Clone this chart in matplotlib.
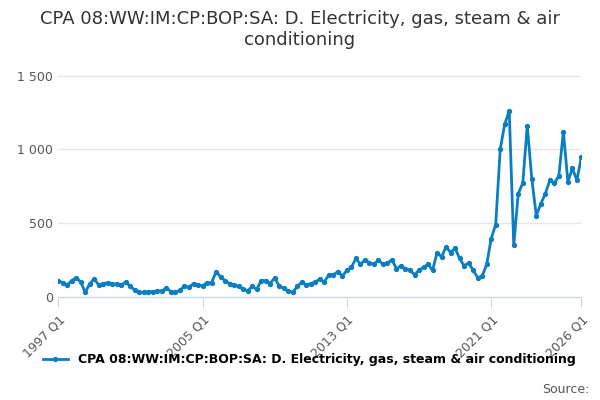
import matplotlib
matplotlib.use("Agg")
import matplotlib.pyplot as plt
import numpy as np

values = [110, 95, 80, 110, 130, 100, 30, 90, 120, 80, 90, 95, 90, 85, 80,
          100, 70, 45, 30, 30, 35, 35, 40, 40, 60, 35, 30, 45, 70, 65, 90,
          80, 75, 95, 95, 170, 135, 110, 90, 80, 70, 55, 40, 70, 50, 110,
          110, 90, 130, 70, 60, 40, 30, 70, 100, 80, 90, 100, 120, 100,
          150, 150, 170, 140, 180, 200, 260, 220, 250, 230, 220, 250, 220, 230, 250, 190,
          210, 190, 180, 150, 180, 200, 220, 180, 300, 270, 340, 300, 330, 260, 210, 230,
          180, 130, 140, 220, 395, 490, 1000, 1170, 1260, 350, 700, 770, 1160, 800, 550, 630,
          700, 790, 770, 820, 1120, 780, 870, 790, 950]
labels = [f"{1997 + i // 4} Q{i % 4 + 1}" for i in range(len(values))]
tick_labels = ["1997 Q1", "2005 Q1", "2013 Q1", "2021 Q1", "2026 Q1"]
series_name = "CPA 08:WW:IM:CP:BOP:SA: D. Electricity, gas, steam & air conditioning"

fig = plt.figure(figsize=(6, 4), dpi=100)
ax = fig.add_axes([0.097, 0.258, 0.872, 0.59])
x = np.arange(len(values))
ax.plot(x, values, color="#0a7ec2", lw=2, marker="o", ms=2.8)
ax.set_xlim(0, len(values) - 1)
ax.set_ylim(0, 1600)
ax.set_yticks([0, 500, 1000, 1500])
ax.set_yticklabels(["0", "500", "1 000", "1 500"])
ticks = [labels.index(t) for t in tick_labels]
ax.set_xticks(ticks)
ax.set_xticklabels(tick_labels, rotation=45, ha="right", rotation_mode="anchor")
ax.tick_params(axis="y", length=0, labelsize=9, colors="#555555")
ax.tick_params(axis="x", length=8, color="#ccd6eb", labelsize=9, labelcolor="#555555")
ax.grid(axis="y", color="#e6e6e6", lw=1)
for s in ["top", "right", "left"]:
    ax.spines[s].set_visible(False)
ax.spines["bottom"].set_color("#ccd6eb")
fig.suptitle("CPA 08:WW:IM:CP:BOP:SA: D. Electricity, gas, steam & air\nconditioning",
             y=0.975, fontsize=13, color="#333333")
ax.legend([ax.lines[0]], [series_name], loc="upper center", bbox_to_anchor=(0.48, -0.19),
          frameon=False, handlelength=2,
          prop={"weight": "bold", "size": 9})
fig.text(0.982, 0.01, "Source:", ha="right", va="bottom", fontsize=9, color="#555555")
fig.savefig("out.png")
